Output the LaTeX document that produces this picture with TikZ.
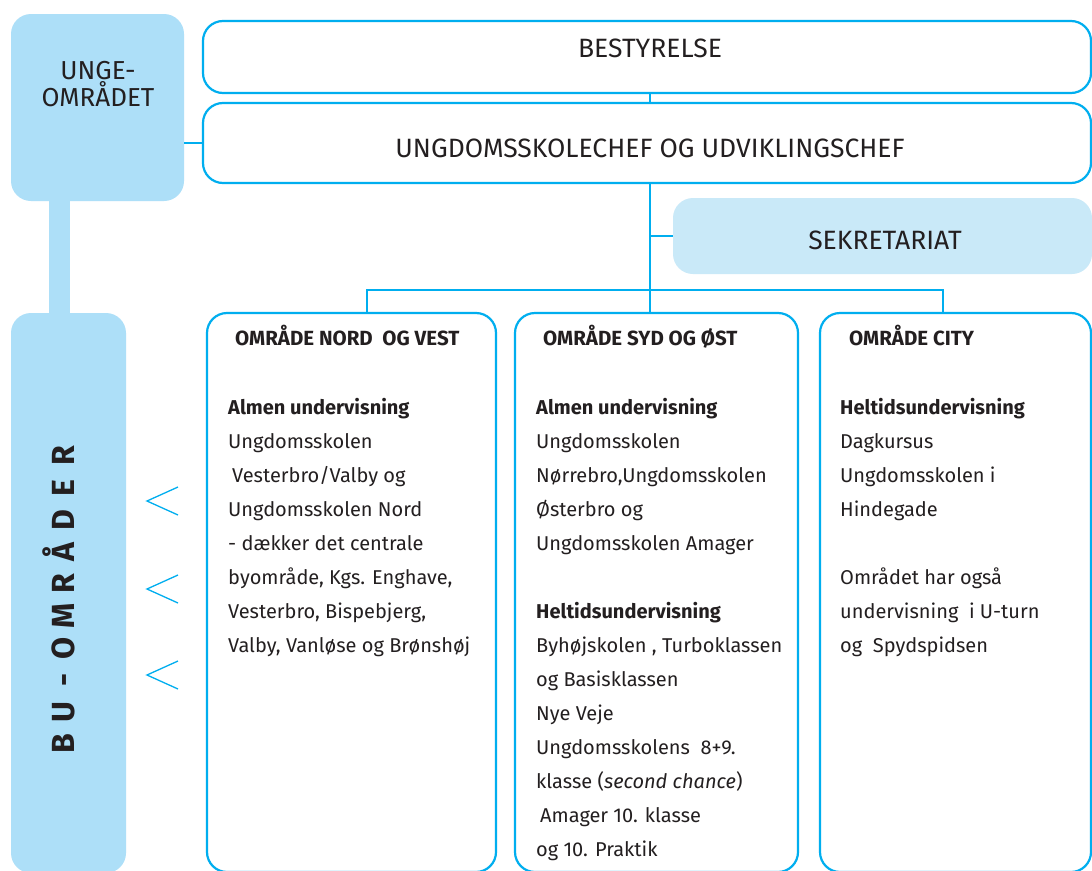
\documentclass[tikz,border=0pt]{standalone}
\usepackage{fontspec}
\setmainfont{Fira Sans}
\definecolor{lineblue}{HTML}{00AEEF}
\definecolor{boxblue}{HTML}{ADDFF8}
\definecolor{paleblue}{HTML}{C9E9F8}
\definecolor{txt}{HTML}{231F20}
\newcommand\buletter[1]{\makebox[32pt]{#1}}
\begin{document}
\begin{tikzpicture}[x=1pt,y=-1pt,
  outbox/.style={draw=lineblue, line width=2.2pt, rounded corners=20pt, fill=white, inner sep=0pt},
  fillbox/.style={fill=boxblue, rounded corners=20pt, inner sep=0pt},
  palebox/.style={fill=paleblue, rounded corners=20pt, inner sep=0pt},
  conn/.style={draw=lineblue, line width=2pt},
  chev/.style={draw=lineblue, line width=1.3pt},
  titletext/.style={text=txt, inner sep=0pt, font=\fontsize{26.5}{30}\selectfont},
  headtext/.style={text=txt, inner sep=0pt, anchor=base west, font=\bfseries\fontsize{20.5}{24}\selectfont},
  bodytext/.style={text=txt, inner sep=0pt, anchor=north west, align=left, font=\fontsize{20}{34}\selectfont}]
\useasboundingbox (0,0) rectangle (1092,870);
\fill[white] (0,0) rectangle (1092,870);
% light blue column elements
\node[fill=boxblue, inner sep=0pt, minimum width=21pt, minimum height=130pt] (bar) at (59.5,257) {};
\node[fillbox, minimum width=173pt, minimum height=187pt] (unge) at (97.5,107.5) {};
\node[fillbox, minimum width=115pt, minimum height=560pt] (bu) at (68.5,593) {};
% top boxes
\node[outbox, minimum width=888pt, minimum height=72pt] (best) at (647,57) {};
\node[outbox, minimum width=888pt, minimum height=80pt] (chef) at (647,143) {};
\node[palebox, minimum width=419pt, minimum height=76pt] (sek) at (882.5,236) {};
% area boxes
\node[outbox, minimum width=289pt, minimum height=559pt] (nord) at (351.5,592.5) {};
\node[outbox, minimum width=283pt, minimum height=559pt] (syd) at (656.5,592.5) {};
\node[outbox, minimum width=271pt, minimum height=559pt] (city) at (955.5,592.5) {};
% connectors
\coordinate (vx) at (650,0);
\coordinate (hl) at (367,290);
\coordinate (hr) at (943,290);
\draw[conn] (best.south -| vx) -- (chef.north -| vx);
\draw[conn] (chef.south -| vx) -- (syd.north -| vx);
\draw[conn] (sek.west) -- (sek.west -| vx);
\draw[conn] (nord.north -| hl) -- (hl) -- (hr) -- (city.north -| hr);
\draw[conn] (chef.west -| unge.east) -- (chef.west);
% chevrons
\draw[chev] (178,487) -- (147,501) -- (178,515);
\draw[chev] (178,575) -- (147,589) -- (178,603);
\draw[chev] (178,661) -- (147,675) -- (178,689);
% texts
\node[titletext] (besttxt) at (650,48) {BESTYRELSE};
\node[titletext] (cheftxt) at (650,148) {UNGDOMSSKOLECHEF OG UDVIKLINGSCHEF};
\node[titletext] (sektxt) at (885,240) {SEKRETARIAT};
\node[text=txt, inner sep=0pt, align=center, font=\fontsize{26}{27}\selectfont] (ungetxt) at (98,84) {UNGE-\\OMRÅDET};
\node[text=txt, rotate=90, inner sep=0pt, font=\bfseries\fontsize{32}{32}\selectfont] (butxt) at (59,600)
  {\buletter{B}\buletter{U}\buletter{-}\buletter{O}\buletter{M}\buletter{R}\buletter{Å}\buletter{D}\buletter{E}\buletter{R}};
\node[headtext] (nordhead) at (235,345) {OMRÅDE NORD\ \ OG VEST};
\node[headtext] (sydhead) at (543,345) {OMRÅDE SYD OG ØST};
\node[headtext] (cityhead) at (849,345) {OMRÅDE CITY};
\node[bodytext] (nordbody) at (228,398) {\textbf{Almen undervisning}\\
Ungdomsskolen\\
\hspace*{4pt}Vesterbro/Valby og\\
Ungdomsskolen Nord\\
- dækker det centrale\\
byområde, Kgs. Enghave,\\
Vesterbro, Bispebjerg,\\
Valby, Vanløse og Brønshøj};
\node[bodytext] (sydbody) at (536,398) {\textbf{Almen undervisning}\\
Ungdomsskolen\\
Nørrebro,Ungdomsskolen\\
Østerbro og\\
Ungdomsskolen Amager\\[34pt]
\textbf{Heltidsundervisning}\\
Byhøjskolen , Turboklassen\\
og Basisklassen\\
Nye Veje\\
Ungdomsskolens\ \ 8+9.\\
klasse (\textit{second chance})\\
\hspace*{4pt}Amager 10. klasse\\
og 10. Praktik};
\node[bodytext] (citybody) at (840,398) {\textbf{Heltidsundervisning}\\
Dagkursus\\
Ungdomsskolen i\\
Hindegade\\[34pt]
Området har også\\
undervisning\ \ i U-turn\\
og\ \ Spydspidsen};
\end{tikzpicture}
\end{document}
